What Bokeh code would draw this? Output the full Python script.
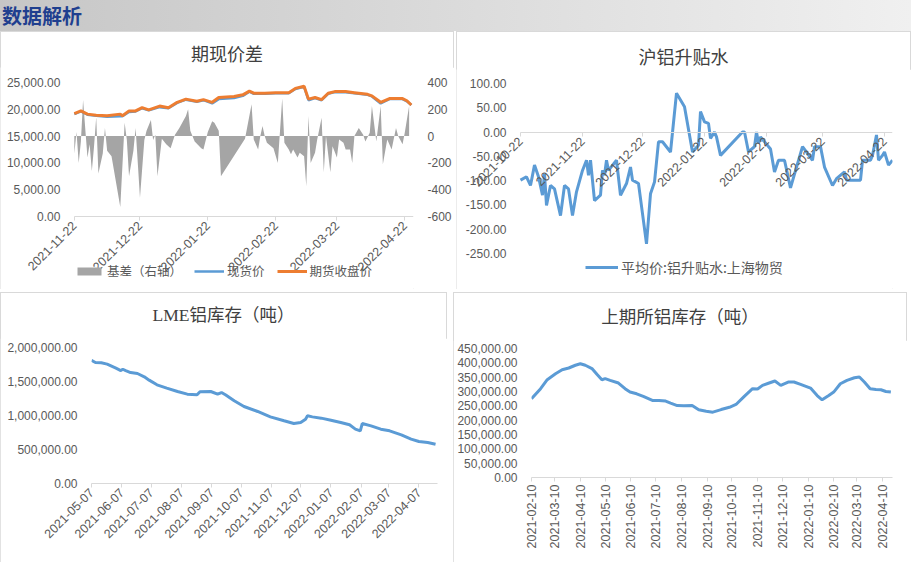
import math
import pandas as pd
from bokeh.plotting import figure
from bokeh.models import (Range1d, LinearAxis, FixedTicker, NumeralTickFormatter,
                          DatetimeTickFormatter, Legend, LegendItem, Div, Spacer)
from bokeh.layouts import column, row
from bokeh.embed import file_html
from bokeh.resources import INLINE

# ---------------- data: 期现价差 ----------------
basis_dates = ["2021-11-22", "2021-11-23", "2021-11-24", "2021-11-25", "2021-11-26", "2021-11-28",
               "2021-11-29", "2021-11-30", "2021-12-01", "2021-12-02", "2021-12-03", "2021-12-05",
               "2021-12-06", "2021-12-07", "2021-12-09", "2021-12-13", "2021-12-15", "2021-12-16",
               "2021-12-17", "2021-12-19", "2021-12-20", "2021-12-22", "2021-12-24", "2021-12-25",
               "2021-12-27", "2021-12-28", "2021-12-29", "2021-12-30", "2022-01-01", "2022-01-03",
               "2022-01-05", "2022-01-07", "2022-01-09", "2022-01-12", "2022-01-13", "2022-01-14",
               "2022-01-16", "2022-01-19", "2022-01-20", "2022-01-22", "2022-01-24", "2022-01-25",
               "2022-01-27", "2022-01-28", "2022-02-08", "2022-02-11", "2022-02-12", "2022-02-14",
               "2022-02-15", "2022-02-16", "2022-02-17", "2022-02-18", "2022-02-21", "2022-02-23",
               "2022-02-25", "2022-02-26", "2022-02-28", "2022-03-01", "2022-03-02", "2022-03-04",
               "2022-03-05", "2022-03-07", "2022-03-08", "2022-03-09", "2022-03-10", "2022-03-12",
               "2022-03-13", "2022-03-15", "2022-03-16", "2022-03-17", "2022-03-19", "2022-03-20",
               "2022-03-22", "2022-03-23", "2022-03-25", "2022-03-26", "2022-03-28", "2022-03-29",
               "2022-03-30", "2022-04-01", "2022-04-03", "2022-04-04", "2022-04-06", "2022-04-07",
               "2022-04-09", "2022-04-11", "2022-04-12", "2022-04-14", "2022-04-16", "2022-04-18",
               "2022-04-19", "2022-04-21", "2022-04-22", "2022-04-24"]
basis_values = [-130, 30, -200, -40, 270, -160,
                -60, -260, -80, 140, -280, -130,
                60, -110, -150, -530, 100, -30,
                -300, -110, 60, -460, -30, 40,
                120, -30, 10, -300, -20, -60,
                -90, 10, 60, 150, 200, 40,
                -40, -90, -100, 30, 110, 100,
                40, -300, -20, 237, -25, -100,
                0, 75, 0, -50, -90, -200,
                280, -50, -100, -135, -100, -160,
                -125, -150, -375, 150, -200, -125,
                -25, 137, -270, 0, -270, -75,
                -160, -25, -50, -100, -100, -200,
                0, 60, 10, -40, 25, 225,
                -40, 225, -210, -25, -100, 60,
                0, -60, 25, 225]

price_dates = ["2021-11-22", "2021-11-25", "2021-11-28", "2021-12-02", "2021-12-07", "2021-12-13",
               "2021-12-14", "2021-12-17", "2021-12-20", "2021-12-23", "2021-12-26", "2021-12-31",
               "2022-01-04", "2022-01-08", "2022-01-12", "2022-01-17", "2022-01-20", "2022-01-24",
               "2022-01-27", "2022-02-03", "2022-02-07", "2022-02-10", "2022-02-12", "2022-02-17",
               "2022-02-22", "2022-02-28", "2022-03-03", "2022-03-07", "2022-03-09", "2022-03-12",
               "2022-03-15", "2022-03-18", "2022-03-21", "2022-03-26", "2022-03-30", "2022-04-05",
               "2022-04-07", "2022-04-11", "2022-04-15", "2022-04-19", "2022-04-21", "2022-04-23",
               "2022-04-25"]
spot_price = [19100, 19600, 19000, 18800, 18600, 18700,
              18700, 19500, 19600, 20200, 19800, 20400,
              20200, 21200, 21800, 21400, 21700, 21100,
              21900, 22100, 22500, 23300, 22900, 22900,
              23000, 23000, 23800, 24200, 21700, 22100,
              21700, 22900, 23200, 23200, 23000, 22700,
              22400, 21100, 21900, 21900, 21900, 21500,
              20800]
futures_close = [19200, 19700, 19100, 18900, 18800, 19100,
                 18800, 19700, 19700, 20300, 19900, 20600,
                 20300, 21300, 21900, 21500, 21800, 21300,
                 22200, 22400, 22700, 23400, 23000, 23000,
                 23100, 23100, 23900, 24300, 21900, 22200,
                 21800, 23000, 23300, 23300, 23100, 22800,
                 22500, 21300, 22000, 22000, 22000, 21600,
                 20800]
p1_ticks = ["2021-11-22", "2021-12-22", "2022-01-22", "2022-02-22", "2022-03-22", "2022-04-22"]

# ---------------- data: 沪铝升贴水 ----------------
prem_dates = ["2021-10-22", "2021-10-25", "2021-10-27", "2021-10-29", "2021-10-31", "2021-11-02",
              "2021-11-03", "2021-11-04", "2021-11-06", "2021-11-08", "2021-11-11", "2021-11-13",
              "2021-11-15", "2021-11-17", "2021-11-19", "2021-11-22", "2021-11-24", "2021-11-25",
              "2021-11-26", "2021-11-28", "2021-12-01", "2021-12-02", "2021-12-03", "2021-12-04",
              "2021-12-05", "2021-12-09", "2021-12-11", "2021-12-14", "2021-12-16", "2021-12-17",
              "2021-12-20", "2021-12-22", "2021-12-24", "2021-12-26", "2021-12-28", "2021-12-30",
              "2022-01-01", "2022-01-05", "2022-01-08", "2022-01-12", "2022-01-16", "2022-01-19",
              "2022-01-20", "2022-01-22", "2022-01-24", "2022-01-25", "2022-01-27", "2022-01-28",
              "2022-01-30", "2022-02-10", "2022-02-11", "2022-02-13", "2022-02-16", "2022-02-17",
              "2022-02-18", "2022-02-19", "2022-02-24", "2022-02-26", "2022-02-28", "2022-03-03",
              "2022-03-06", "2022-03-12", "2022-03-17", "2022-03-18", "2022-03-21", "2022-03-23",
              "2022-03-27", "2022-03-29", "2022-04-02", "2022-04-03", "2022-04-10", "2022-04-11",
              "2022-04-15", "2022-04-16", "2022-04-18", "2022-04-19", "2022-04-21", "2022-04-22",
              "2022-04-24", "2022-04-26"]
prem_values = [-99, -92, -110, -68, -92, -130,
               -86, -151, -110, -117, -172, -110,
               -117, -172, -123, -79, -58, -89,
               -58, -141, -130, -79, -89, -58,
               -79, -58, -130, -106, -72, -99,
               -106, -168, -230, -127, -103, -20,
               -20, -41, 80, 52, -41, -27,
               42, 21, 18, -13, 0, -10,
               -48, 0, 0, -41, -30, 0,
               -23, -10, -35, -82, -58, -58,
               -115, -30, -58, -30, -30, -72,
               -110, -96, -82, -99, -99, -58,
               -58, -48, -6, -58, -48, -41,
               -68, -58]
p2_ticks = ["2021-10-22", "2021-11-22", "2021-12-22", "2022-01-22", "2022-02-22", "2022-03-22", "2022-04-22"]

# ---------------- data: LME铝库存 ----------------
lme_dates = ["2021-05-07", "2021-05-11", "2021-05-17", "2021-05-23", "2021-06-01", "2021-06-06",
             "2021-06-08", "2021-06-11", "2021-06-16", "2021-06-23", "2021-06-30", "2021-07-05",
             "2021-07-13", "2021-07-23", "2021-08-03", "2021-08-13", "2021-08-23", "2021-08-26",
             "2021-09-06", "2021-09-13", "2021-09-17", "2021-09-21", "2021-09-30", "2021-10-10",
             "2021-10-24", "2021-11-06", "2021-11-20", "2021-11-30", "2021-12-07", "2021-12-12",
             "2021-12-14", "2021-12-19", "2021-12-28", "2022-01-07", "2022-01-17", "2022-01-26",
             "2022-02-01", "2022-02-06", "2022-02-08", "2022-02-17", "2022-02-27", "2022-03-08",
             "2022-03-20", "2022-03-30", "2022-04-07", "2022-04-16", "2022-04-24"]
lme_stock = [1810000, 1780000, 1775000, 1755000, 1696000, 1660000,
             1680000, 1660000, 1632000, 1618000, 1569000, 1520000,
             1451000, 1402000, 1353000, 1314000, 1304000, 1350000,
             1353000, 1314000, 1338000, 1304000, 1216000, 1132000,
             1059000, 980000, 922000, 882000, 897000, 946000,
             995000, 980000, 961000, 931000, 897000, 863000,
             799000, 775000, 882000, 848000, 799000, 775000,
             716000, 652000, 618000, 603000, 578000]
p3_ticks = ["2021-05-07", "2021-06-07", "2021-07-07", "2021-08-07", "2021-09-07", "2021-10-07",
            "2021-11-07", "2021-12-07", "2022-01-07", "2022-02-07", "2022-03-07", "2022-04-07"]

# ---------------- data: 上期所铝库存 ----------------
shfe_dates = ["2021-02-10", "2021-02-21", "2021-03-01", "2021-03-11", "2021-03-19", "2021-03-27",
              "2021-04-04", "2021-04-10", "2021-04-16", "2021-04-24", "2021-04-30", "2021-05-06",
              "2021-05-10", "2021-05-16", "2021-05-26", "2021-06-03", "2021-06-09", "2021-06-17",
              "2021-06-25", "2021-07-06", "2021-07-14", "2021-07-22", "2021-07-28", "2021-08-05",
              "2021-08-13", "2021-08-23", "2021-08-31", "2021-09-09", "2021-09-17", "2021-09-27",
              "2021-10-07", "2021-10-15", "2021-10-25", "2021-11-04", "2021-11-10", "2021-11-16",
              "2021-11-24", "2021-12-01", "2021-12-08", "2021-12-17", "2021-12-24", "2022-01-01",
              "2022-01-13", "2022-01-21", "2022-01-27", "2022-02-04", "2022-02-10", "2022-02-18",
              "2022-02-26", "2022-03-07", "2022-03-13", "2022-03-19", "2022-03-26", "2022-04-02",
              "2022-04-08", "2022-04-14", "2022-04-20"]
shfe_stock = [274700, 309700, 341300, 362000, 376000, 382000,
              391600, 397000, 391600, 380000, 360000, 341000,
              345000, 339000, 329600, 309700, 298000, 292000,
              283000, 269000, 269000, 266500, 259500, 251000,
              250000, 251000, 236000, 231000, 228000, 237000,
              245000, 254800, 283000, 309700, 308600, 321400,
              329600, 336600, 321400, 333000, 333000, 325000,
              312000, 286000, 271000, 286000, 298000, 327000,
              339000, 348000, 350600, 333000, 309700, 307000,
              306000, 300000, 298000]
p4_ticks = ["2021-02-10", "2021-03-10", "2021-04-10", "2021-05-10", "2021-06-10", "2021-07-10",
            "2021-08-10", "2021-09-10", "2021-10-10", "2021-11-10", "2021-12-10", "2022-01-10",
            "2022-02-10", "2022-03-10", "2022-04-10"]

# ---------------- styling helpers ----------------
AXIS_FONT = "Liberation Sans"
CJK_FONT = "Noto Sans CJK SC"
LABEL_COLOR = "#595959"
LINE_GREY = "#d9d9d9"
BLUE = "#5b9bd5"
ORANGE = "#ed7d31"
GREY = "#a5a5a5"


def ms(s):
    return pd.Timestamp(s).value / 1e6


def dt(lst):
    return pd.to_datetime(lst)


def padded_range(lo, hi, top_px, plot_px, bottom_px):
    """Range whose [lo, hi] part covers plot_px, with extra room above and below."""
    k = (hi - lo) / plot_px
    return Range1d(lo - k * bottom_px, hi + k * top_px)


def extend_left(a, b, lead_px, plot_px):
    """Range start so that dates a..b occupy plot_px after lead_px of room for the y labels."""
    return ms(a) - (ms(b) - ms(a)) * lead_px / plot_px


def make_fig(w, h, x_range, y_range, left, right, top, bottom):
    p = figure(width=w, height=h, x_axis_type="datetime", output_backend="svg",
               toolbar_location=None, x_range=x_range, y_range=y_range,
               min_border_left=left, min_border_right=right,
               min_border_top=top, min_border_bottom=bottom)
    p.title.visible = False
    p.outline_line_color = None
    p.xgrid.visible = False
    p.ygrid.visible = False
    p.background_fill_color = "white"
    p.border_fill_color = "white"
    return p


def title_div(text, w, h, center, size, family="'Noto Sans CJK SC'"):
    html = (f"<div style=\"width:{w}px;height:{h}px;line-height:{2 * center}px;text-align:center;"
            f"font-family:{family};font-size:{size};color:#404040;white-space:nowrap;"
            f"overflow:visible;\">{text}</div>")
    return Div(text=html, width=w, height=h, margin=0)


def panel(tdiv, fig):
    return column(tdiv, fig, spacing=0,
                  styles={"outline": "1px solid #d9d9d9", "outline-offset": "-1px",
                          "background": "white"})


def style_yaxis(ax, ticks, fmt="0,0.00"):
    ax.ticker = FixedTicker(ticks=ticks)
    ax.formatter = NumeralTickFormatter(format=fmt)
    ax.axis_line_color = None
    ax.major_tick_line_color = None
    ax.minor_tick_line_color = None
    ax.major_label_text_font = AXIS_FONT
    ax.major_label_text_font_size = "12px"
    ax.major_label_text_color = LABEL_COLOR
    ax.major_label_standoff = 8


def style_xaxis(ax, tick_labels, orientation, size="12.5px"):
    ax.ticker = FixedTicker(ticks=[ms(s) for s in tick_labels])
    f = "%Y-%m-%d"
    ax.formatter = DatetimeTickFormatter(days=f, months=f, years=f, hours=f, hourmin=f,
                                         minutes=f, minsec=f, seconds=f, milliseconds=f,
                                         microseconds=f, context=None)
    ax.axis_line_color = LINE_GREY
    ax.major_tick_line_color = LINE_GREY
    ax.major_tick_out = 4
    ax.major_tick_in = 0
    ax.minor_tick_line_color = None
    ax.major_label_orientation = orientation
    ax.major_label_text_font = AXIS_FONT
    ax.major_label_text_font_size = size
    ax.major_label_text_color = LABEL_COLOR
    ax.major_label_standoff = 3


def make_legend(items, loc, size="12.5px", glyph_w=30):
    lg = Legend(items=items, location=loc, orientation="horizontal")
    lg.label_text_font = CJK_FONT
    lg.label_text_font_size = size
    lg.label_text_color = LABEL_COLOR
    lg.glyph_width = glyph_w
    lg.glyph_height = 10
    lg.label_height = 12
    lg.label_standoff = 3
    lg.spacing = 12
    lg.padding = 0
    lg.margin = 0
    lg.border_line_color = None
    lg.background_fill_alpha = 0
    return lg


# ---------------- header ----------------
header = Div(text="<div style=\"padding-left:2px;font-family:'Noto Sans CJK SC';font-weight:bold;"
                  "font-size:20px;color:#1f3f8f;line-height:31px;\">数据解析</div>",
             width=911, height=31, margin=0,
             styles={"background": "linear-gradient(to right, #c6c6c6, #f0f0f0)"})

# ---------------- panel 1 ----------------
# frame fills the panel below the title; axes are pinned at (2021-11-22, price 0)
P1_START, P1_END = "2021-11-22", "2022-04-26"
p1 = make_fig(454, 222,
              Range1d(extend_left(P1_START, P1_END, 74, 340), ms(P1_END)),
              padded_range(0, 25000, 15, 134, 73), 0, 40, 0, 0)
p1.extra_y_ranges = {"basis": padded_range(-600, 400, 15, 134, 73)}
p1.add_layout(LinearAxis(y_range_name="basis"), "right")
style_yaxis(p1.yaxis[0], [0, 5000, 10000, 15000, 20000, 25000])
p1.yaxis[0].fixed_location = ms(P1_START)
style_yaxis(p1.yaxis[1], [-600, -400, -200, 0, 200, 400], fmt="0")
style_xaxis(p1.xaxis[0], p1_ticks, math.pi / 4)
p1.xaxis[0].fixed_location = 0
p1.xaxis[0].bounds = (ms(P1_START), ms(P1_END))
r_basis = p1.varea(x=dt(basis_dates), y1=0, y2=basis_values, fill_color=GREY,
                   y_range_name="basis")
r_spot = p1.line(x=dt(price_dates), y=spot_price, line_color=BLUE, line_width=2.5)
r_fut = p1.line(x=dt(price_dates), y=futures_close, line_color=ORANGE, line_width=3)
p1.add_layout(make_legend([LegendItem(label="基差（右轴）", renderers=[r_basis]),
                           LegendItem(label="现货价", renderers=[r_spot]),
                           LegendItem(label="期货收盘价", renderers=[r_fut])], (74, 9)))

# ---------------- panel 2 ----------------
# frame fills the panel below the title; axes are pinned at (2021-10-22, 0)
P2_START, P2_END = "2021-10-22", "2022-04-26"
p2 = make_fig(455, 220,
              Range1d(extend_left(P2_START, P2_END, 64, 372), ms(P2_END)),
              padded_range(-250, 100, 14, 170, 36), 0, 19, 0, 0)
style_yaxis(p2.yaxis[0], [-250, -200, -150, -100, -50, 0, 50, 100])
p2.yaxis[0].fixed_location = ms(P2_START)
style_xaxis(p2.xaxis[0], p2_ticks, math.pi / 4)
p2.xaxis[0].fixed_location = 0
p2.xaxis[0].bounds = (ms(P2_START), ms(P2_END))
r_prem = p2.line(x=dt(prem_dates), y=prem_values, line_color=BLUE, line_width=3)
p2.add_layout(make_legend([LegendItem(label="平均价:铝升贴水:上海物贸", renderers=[r_prem])],
                          (129, 12), size="14px", glyph_w=33))

# ---------------- panel 3 ----------------
p3 = make_fig(447, 224, Range1d(ms("2021-05-07"), ms("2022-04-26")),
              Range1d(0, 2000000), 91, 10, 9, 79)
style_yaxis(p3.yaxis[0], [0, 500000, 1000000, 1500000, 2000000])
style_xaxis(p3.xaxis[0], p3_ticks, math.pi / 4)
p3.line(x=dt(lme_dates), y=lme_stock, line_color=BLUE, line_width=3)

# ---------------- panel 4 ----------------
p4 = make_fig(454, 222, Range1d(ms("2021-02-10"), ms("2022-04-22")),
              Range1d(0, 450000), 78, 15, 8, 85)
style_yaxis(p4.yaxis[0], list(range(0, 450001, 50000)))
style_xaxis(p4.xaxis[0], p4_ticks, math.pi / 2)
p4.line(x=dt(shfe_dates), y=shfe_stock, line_color=BLUE, line_width=3)

c1 = panel(title_div("期现价差", 454, 36, 22, "18px"), p1)
c2 = panel(title_div("沪铝升贴水", 455, 38, 25.5, "18px"), p2)
c3 = panel(title_div("LME铝库存（吨）", 447, 46, 23, "17.5px",
                     family="'Liberation Serif','Noto Sans CJK SC'"), p3)
c4 = panel(title_div("上期所铝库存（吨）", 454, 48, 24, "17.5px"), p4)

row1 = row(c1, Spacer(width=2, height=258), c2, spacing=0)
row2 = row(c3, Spacer(width=6, height=270), c4, spacing=0)
layout = column(header, row1, Spacer(width=911, height=3), row2, spacing=0)

open("out.html", "w").write(file_html(layout, INLINE))
